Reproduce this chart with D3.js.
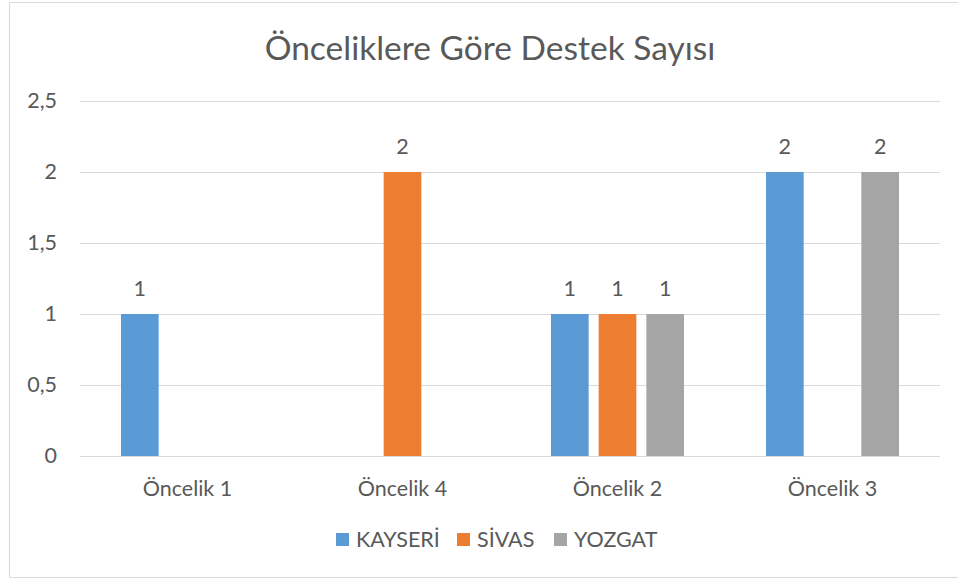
<!DOCTYPE html>
<html lang="tr">
<head>
<meta charset="utf-8">
<script src="https://d3js.org/d3.v7.min.js"></script>
<style>
  body { margin: 0; background: #fff; }
  text { font-family: Lato, "Open Sans", sans-serif; fill: #595959; }
</style>
</head>
<body>
<svg id="chart" width="958" height="579"></svg>
<script>
// chart data
var categories = ["Öncelik 1", "Öncelik 4", "Öncelik 2", "Öncelik 3"];
var seriesNames = ["KAYSERİ", "SİVAS", "YOZGAT"];
var kayseri = [1, null, 1, 2];
var sivas = [null, 2, 1, null];
var yozgat = [null, null, 1, 2];
var yTicks = [0, 0.5, 1, 1.5, 2, 2.5];
var colors = ["#5b9bd5", "#ed7d31", "#a5a5a5"];

var values = [kayseri, sivas, yozgat];

var svg = d3.select("#chart");
var W = 958, H = 579;
var m = { left: 80, right: 18, top: 101, bottom: 123 };
var fs = "21.5px";

// outer border (right edge is cut off in the original)
svg.append("path")
  .attr("d", "M" + (W + 1) + ",2.5 H9.5 V577.5 H" + (W + 1))
  .attr("fill", "none")
  .attr("stroke", "#d9d9d9")
  .attr("stroke-width", 1);

svg.append("text")
  .attr("x", 490).attr("y", 60)
  .attr("text-anchor", "middle")
  .style("font-size", "33.5px")
  .text("Önceliklere Göre Destek Sayısı");

var x0 = d3.scaleBand().domain(categories).range([m.left, W - m.right]).padding(0);
var x1 = d3.scaleBand().domain(seriesNames)
  .range([41, x0.bandwidth() - 41]).paddingInner(0.21);
var y = d3.scaleLinear().domain([0, 2.5]).range([H - m.bottom, m.top]);

var fmt = function (d) { return String(d).replace(".", ","); };

// gridlines
svg.append("g").selectAll("line").data(yTicks).join("line")
  .attr("x1", m.left).attr("x2", W - m.right)
  .attr("y1", function (d) { return Math.round(y(d)) + 0.5; })
  .attr("y2", function (d) { return Math.round(y(d)) + 0.5; })
  .attr("stroke", "#d9d9d9").attr("stroke-width", 1);

// y axis labels
var yAxis = svg.append("g").attr("transform", "translate(57,0)")
  .call(d3.axisLeft(y).tickValues(yTicks).tickFormat(fmt).tickSize(0).tickPadding(0));
yAxis.select(".domain").remove();
yAxis.selectAll("text").style("font-size", fs).attr("fill", "#595959");

// bars
var groups = svg.append("g").selectAll("g").data(categories).join("g")
  .attr("transform", function (d) { return "translate(" + x0(d) + ",0)"; });

groups.each(function (cat, ci) {
  var g = d3.select(this);
  var rows = seriesNames.map(function (s, si) {
    return { s: s, v: values[si][ci], c: colors[si] };
  }).filter(function (r) { return r.v != null; });

  g.selectAll("rect").data(rows).join("rect")
    .attr("x", function (r) { return x1(r.s); })
    .attr("width", x1.bandwidth())
    .attr("y", function (r) { return y(r.v); })
    .attr("height", function (r) { return y(0) - y(r.v); })
    .attr("fill", function (r) { return r.c; });

  g.selectAll("text").data(rows).join("text")
    .attr("x", function (r) { return x1(r.s) + x1.bandwidth() / 2; })
    .attr("y", function (r) { return y(r.v) - 18; })
    .attr("text-anchor", "middle")
    .style("font-size", fs)
    .text(function (r) { return fmt(r.v); });
});

// x axis baseline redraw on top
svg.append("line")
  .attr("x1", m.left).attr("x2", W - m.right)
  .attr("y1", Math.round(y(0)) + 0.5).attr("y2", Math.round(y(0)) + 0.5)
  .attr("stroke", "#d9d9d9");

// x labels
var xAxis = svg.append("g").attr("transform", "translate(0," + y(0) + ")")
  .call(d3.axisBottom(x0).tickSize(0).tickPadding(0));
xAxis.select(".domain").remove();
xAxis.selectAll("text").attr("y", 40).attr("dy", null)
  .style("font-size", fs).attr("fill", "#595959");

// legend
var legendX = [336, 457, 554];
var legend = svg.append("g").selectAll("g").data(seriesNames).join("g")
  .attr("transform", function (d, i) { return "translate(" + legendX[i] + ",533)"; });
legend.append("rect").attr("width", 13).attr("height", 13)
  .attr("fill", function (d, i) { return colors[i]; });
legend.append("text").attr("x", 20).attr("y", 14)
  .style("font-size", fs)
  .text(function (d) { return d; });
</script>
</body>
</html>
